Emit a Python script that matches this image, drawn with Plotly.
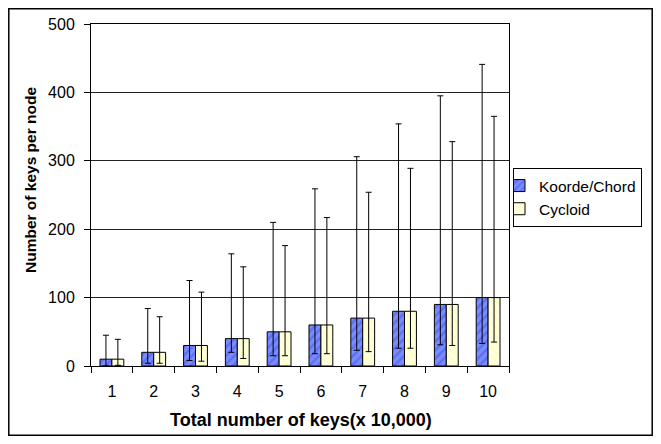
import plotly.graph_objects as go

categories = ["1", "2", "3", "4", "5", "6", "7", "8", "9", "10"]
koorde_mean = [10, 20, 30, 40, 50, 60, 70, 80, 90, 100]
koorde_high = [45, 84, 125, 164, 210, 259, 306, 354, 395, 441]
koorde_low = [0, 4, 8, 20, 15, 18, 23, 26, 31, 33]
cycloid_mean = [10, 20, 30, 40, 50, 60, 70, 80, 90, 100]
cycloid_high = [39, 72, 108, 145, 176, 217, 254, 289, 328, 365]
cycloid_low = [1, 4, 7, 11, 15, 18, 21, 26, 30, 35]

FONT = "Liberation Sans, Arial, sans-serif"

fig = go.Figure()
fig.add_trace(go.Bar(
    name="Koorde/Chord", x=categories, y=koorde_mean,
    marker=dict(color="#7b8cff", line=dict(color="#000000", width=1),
                pattern=dict(shape="/", bgcolor="#7b8cff", fgcolor="#3d52e6",
                             size=6, solidity=0.4)),
    error_y=dict(type="data", symmetric=False,
                 array=[h - m for h, m in zip(koorde_high, koorde_mean)],
                 arrayminus=[m - l for m, l in zip(koorde_mean, koorde_low)],
                 color="#000000", thickness=1, width=3),
))
fig.add_trace(go.Bar(
    name="Cycloid", x=categories, y=cycloid_mean,
    marker=dict(color="#ffffe6", line=dict(color="#000000", width=1),
                pattern=dict(shape="\\", bgcolor="#ffffe6", fgcolor="#ffff99",
                             size=6, solidity=0.4)),
    error_y=dict(type="data", symmetric=False,
                 array=[h - m for h, m in zip(cycloid_high, cycloid_mean)],
                 arrayminus=[m - l for m, l in zip(cycloid_mean, cycloid_low)],
                 color="#000000", thickness=1, width=3),
))

# page body adds an 8px margin on every side; keep figure inside the window
L, R, T, B = 83, 144, 16, 70
W, H = 645, 428
PL, PT, PW, PH = 91, 24, 418, 342  # plot area in window pixels


def px(x):
    return (x - PL) / PW


def py(y):
    return (PT + PH - y) / PH


fig.update_layout(
    width=W, height=H,
    margin=dict(l=L, r=R, t=T, b=B, autoexpand=False),
    paper_bgcolor="white", plot_bgcolor="white",
    font=dict(family=FONT, color="#000000", size=16),
    barmode="group", bargap=0.43, bargroupgap=0,
    showlegend=True,
    legend=dict(x=px(513), y=py(168), xanchor="left", yanchor="top",
                bordercolor="#000000", borderwidth=1, bgcolor="white",
                font=dict(size=15.5, family=FONT), tracegroupgap=0,
                itemwidth=30, indentation=-15),
    xaxis=dict(type="category", tickson="boundaries", ticks="outside",
               ticklen=6, tickcolor="#000000", showline=True, linecolor="#000000",
               linewidth=1, mirror=True, showgrid=False,
               tickfont=dict(size=16), ticklabelstandoff=11),
    yaxis=dict(range=[0, 500], tickvals=[0, 100, 200, 300, 400, 500],
               ticks="outside", ticklen=6, tickcolor="#000000",
               showline=True, linecolor="#000000", linewidth=1, mirror=True,
               showgrid=True, gridcolor="#222222", gridwidth=1,
               zeroline=False, tickfont=dict(size=16), ticklabelstandoff=6),
    annotations=[
        dict(text="<b>Total number of keys(x 10,000)</b>", xref="paper", yref="paper",
             x=px(300.5), y=py(420), xanchor="center", yanchor="middle",
             showarrow=False, font=dict(size=18, family=FONT)),
        dict(text="<b>Number of keys per node</b>", xref="paper", yref="paper",
             x=px(30), y=py(180), xanchor="center", yanchor="middle",
             textangle=-90, showarrow=False, font=dict(size=15.5, family=FONT)),
    ],
    shapes=[
        dict(type="rect", xref="paper", yref="paper",
             x0=px(8.8), x1=px(652.2), y0=py(435.2), y1=py(8.8),
             line=dict(color="#000000", width=1.5), layer="below"),
    ],
)

fig.write_html("out.html")
